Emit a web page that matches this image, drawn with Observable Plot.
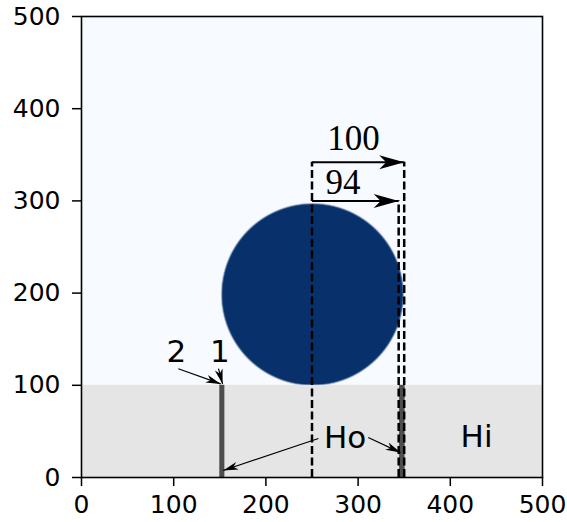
<!DOCTYPE html>
<html>
<head>
<meta charset="utf-8">
<script src="https://cdn.jsdelivr.net/npm/d3@7"></script>
<script src="https://cdn.jsdelivr.net/npm/@observablehq/plot@0.6"></script>
<style>
  html, body { margin: 0; padding: 0; background: white; }
  #chart svg { display: block; }
</style>
</head>
<body>
<div id="chart"></div>
<script>
// ---- data ----
const tickValues = [0, 100, 200, 300, 400, 500];
const domainX = [0, 500];
const domainY = [0, 500];

// droplet (circle) in data units
const circleCenterX = [250.5];
const circleCenterY = [198.5];
const circleRadius = [98.5];

// grey substrate layer
const layerX1 = [0];
const layerX2 = [500];
const layerY1 = [0];
const layerY2 = [100];

// dark bars
const barX1 = [150, 345];
const barX2 = [155.5, 351];
const barY1 = [0, 0];
const barY2 = [100, 100];

// dashed guide lines
const dashX = [250, 350, 344];
const dashTop = [342, 342, 300];

// dimension arrows
const dimLabel = ["100", "94"];
const dimX1 = [250, 250];
const dimX2 = [350, 344];
const dimY = [342, 300];
const dimTextX = [295, 283.5];
const dimTextY = [355, 308];

// annotation labels
const annText = ["2", "1", "Ho", "Hi"];
const annX = [103, 150, 286, 428.5];
const annY = [125, 125, 32.5, 33];

// annotation arrows (tail -> tip)
const annArrowX1 = [105, 148.6, 257, 311];
const annArrowY1 = [118, 118, 42.3, 43.4];
const annArrowX2 = [151, 153, 153.7, 346];
const annArrowY2 = [101.5, 101.5, 7.6, 27];

const idx = n => d3.range(n);

const cx = circleCenterX[0], cy = circleCenterY[0], cr = circleRadius[0];

const DIM_SW = 2, ANN_SW = 1.2;

const plot = Plot.plot({
  width: 567,
  height: 522,
  marginLeft: 81,
  marginRight: 25,
  marginTop: 16,
  marginBottom: 45,
  style: { background: "white" },
  x: { domain: domainX, axis: null },
  y: { domain: domainY, axis: null },
  color: { type: "linear", domain: [0, 1], range: ["#f7fbff", "#08306b"] },
  marks: [
    Plot.raster({
      x1: domainX[0], x2: domainX[1], y1: domainY[0], y2: domainY[1],
      pixelSize: 1,
      fill: (x, y) => {
        const d = Math.hypot(x - cx, y - cy);
        return Math.max(0, Math.min(1, (cr - d) / 1.6 + 0.5));
      }
    }),
    Plot.rect(idx(layerX1.length), {
      x1: i => layerX1[i], x2: i => layerX2[i],
      y1: i => layerY1[i], y2: i => layerY2[i],
      fill: "#e5e5e5"
    }),
    Plot.rect(idx(barX1.length), {
      x1: i => barX1[i], x2: i => barX2[i],
      y1: i => barY1[i], y2: i => barY2[i],
      fill: "#4d4d4d"
    }),
    Plot.ruleX(idx(dashX.length), {
      x: i => dashX[i], y1: 0, y2: i => dashTop[i],
      stroke: "black", strokeWidth: 2.5, strokeDasharray: "8,3.5"
    }),
    Plot.link(idx(dimX1.length), {
      x1: i => dimX1[i], x2: i => dimX2[i], y1: i => dimY[i], y2: i => dimY[i],
      stroke: "black", strokeWidth: DIM_SW, markerEnd: "arrow"
    }),
    Plot.text(idx(dimLabel.length), {
      x: i => dimTextX[i], y: i => dimTextY[i], text: i => dimLabel[i],
      fontSize: 35, fontFamily: "Liberation Serif", lineAnchor: "bottom",
      textAnchor: "middle", fill: "black"
    }),
    Plot.link(idx(annArrowX1.length), {
      x1: i => annArrowX1[i], x2: i => annArrowX2[i],
      y1: i => annArrowY1[i], y2: i => annArrowY2[i],
      stroke: "black", strokeWidth: ANN_SW, markerEnd: "arrow"
    }),
    Plot.text(idx(annText.length), {
      x: i => annX[i], y: i => annY[i], text: i => annText[i],
      fontSize: 31, fontFamily: "DejaVu Sans", lineAnchor: "bottom",
      textAnchor: "middle", fill: "black"
    }),
    Plot.frame({ stroke: "black", strokeWidth: 1.6 }),
    Plot.axisX({
      ticks: tickValues, tickSize: 9, tickPadding: 9, fontSize: 25,
      fontFamily: "DejaVu Sans", strokeWidth: 1.5, label: null, tickFormat: d => String(d)
    }),
    Plot.axisY({
      ticks: tickValues, tickSize: 9, tickPadding: 12, fontSize: 25,
      fontFamily: "DejaVu Sans", strokeWidth: 1.5, label: null, tickFormat: d => String(d)
    })
  ]
});

// restyle arrowheads as filled stealth heads
const SVGNS = "http://www.w3.org/2000/svg";
let mcount = 0;
let defs = document.createElementNS(SVGNS, "defs");
plot.insertBefore(defs, plot.firstChild);
plot.querySelectorAll("[marker-end]").forEach(el => {
  const holder = el.closest("[stroke-width]");
  const sw = holder ? +holder.getAttribute("stroke-width") : NaN;
  let L, W;
  if (Math.abs(sw - DIM_SW) < 1e-6) { L = 25; W = 14; }
  else if (Math.abs(sw - ANN_SW) < 1e-6) { L = 15; W = 8; }
  else return;
  const m = document.createElementNS(SVGNS, "marker");
  const id = `stealth-head-${mcount++}`;
  m.setAttribute("id", id);
  m.setAttribute("viewBox", `${-L} ${-W / 2} ${L} ${W}`);
  m.setAttribute("markerWidth", L);
  m.setAttribute("markerHeight", W);
  m.setAttribute("markerUnits", "userSpaceOnUse");
  m.setAttribute("refX", 0);
  m.setAttribute("refY", 0);
  m.setAttribute("orient", "auto");
  m.setAttribute("fill", "black");
  m.setAttribute("stroke", "none");
  m.setAttribute("overflow", "visible");
  const path = document.createElementNS(SVGNS, "path");
  path.setAttribute("d", `M0,0L${-L},${-W / 2}L${-L * 0.72},0L${-L},${W / 2}Z`);
  m.appendChild(path);
  defs.appendChild(m);
  el.setAttribute("marker-end", `url(#${id})`);
});

document.getElementById("chart").appendChild(plot);
</script>
</body>
</html>
